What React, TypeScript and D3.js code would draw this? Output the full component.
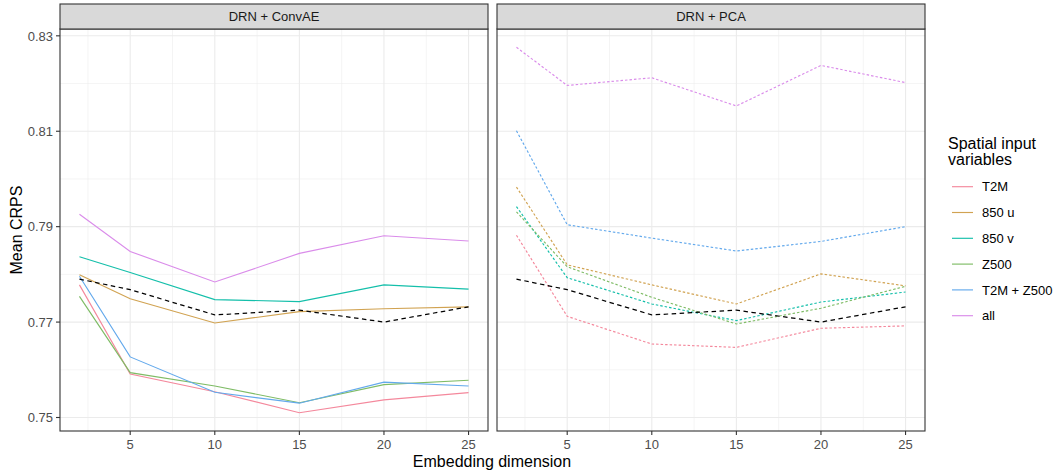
import React from "react";
import * as d3 from "d3";

const dims = [2, 5, 10, 15, 20, 25];
const seriesNames = ["T2M", "850 u", "850 v", "Z500", "T2M + Z500", "all"];
const colors = ["#F4889C", "#D1A352", "#14BFAA", "#7FBC66", "#63A9EC", "#DA8CEA"];

const convAE: number[][] = [
  [0.7778, 0.7591, 0.7554, 0.751, 0.7537, 0.7552],
  [0.7799, 0.7749, 0.7698, 0.7722, 0.7728, 0.7732],
  [0.7837, 0.7804, 0.7747, 0.7743, 0.7778, 0.7769],
  [0.7754, 0.7594, 0.7566, 0.7531, 0.7569, 0.7578],
  [0.7796, 0.7627, 0.7553, 0.753, 0.7574, 0.7566],
  [0.7926, 0.7848, 0.7784, 0.7844, 0.7881, 0.787],
];
const pca: number[][] = [
  [0.7882, 0.7712, 0.7654, 0.7647, 0.7687, 0.7692],
  [0.7983, 0.782, 0.7778, 0.7738, 0.7801, 0.7776],
  [0.7942, 0.7793, 0.7738, 0.7703, 0.7742, 0.7763],
  [0.7931, 0.7816, 0.7752, 0.7696, 0.7729, 0.7775],
  [0.8101, 0.7904, 0.7876, 0.7849, 0.7869, 0.79],
  [0.8276, 0.8196, 0.8212, 0.8153, 0.8238, 0.8202],
];
const reference = [0.779, 0.7768, 0.7715, 0.7725, 0.77, 0.7732];

const panels = [
  { title: "DRN + ConvAE", data: convAE, dash: null as string | null },
  { title: "DRN + PCA", data: pca, dash: "2.5,2" },
];

const yTicks = [0.75, 0.77, 0.79, 0.81, 0.83];
const yMinor = [0.76, 0.78, 0.8, 0.82];
const xTicks = [5, 10, 15, 20, 25];
const xMinor = [2.5, 7.5, 12.5, 17.5, 22.5];

export default function App() {
  const W = 1055, H = 471;
  const top = 29, bottom = 431;
  const panelX = [60, 497];
  const panelW = 428;
  const stripTop = 4;
  const font = "Liberation Sans, Arial, Helvetica, sans-serif";

  const allVals = [...convAE.flat(), ...pca.flat(), ...reference];
  const ymin = d3.min(allVals)!, ymax = d3.max(allVals)!;
  const ypad = (ymax - ymin) * 0.05;
  const y = d3.scaleLinear().domain([ymin - ypad, ymax + ypad]).range([bottom, top]);
  const xpad = (25 - 2) * 0.05;

  return (
    <svg width={W} height={H} style={{ position: "absolute", left: 0, top: 0, fontFamily: font }}>
      <rect width={W} height={H} fill="white" />
      {panels.map((p, pi) => {
        const x0 = panelX[pi];
        const x = d3.scaleLinear().domain([2 - xpad, 25 + xpad]).range([x0, x0 + panelW]);
        const line = d3.line<number>().x((_, i) => x(dims[i])).y((v) => y(v));
        return (
          <g key={pi}>
            <rect x={x0} y={top} width={panelW} height={bottom - top} fill="white" />
            {yMinor.map((t) => (
              <line key={"ym" + t} x1={x0} x2={x0 + panelW} y1={y(t)} y2={y(t)} stroke="#EBEBEB" strokeWidth={0.55} />
            ))}
            {xMinor.map((t) => (
              <line key={"xm" + t} x1={x(t)} x2={x(t)} y1={top} y2={bottom} stroke="#EBEBEB" strokeWidth={0.55} />
            ))}
            {yTicks.map((t) => (
              <line key={"y" + t} x1={x0} x2={x0 + panelW} y1={y(t)} y2={y(t)} stroke="#EBEBEB" strokeWidth={1.1} />
            ))}
            {xTicks.map((t) => (
              <line key={"x" + t} x1={x(t)} x2={x(t)} y1={top} y2={bottom} stroke="#EBEBEB" strokeWidth={1.1} />
            ))}
            {p.data.map((s, si) => (
              <path key={si} d={line(s)!} fill="none" stroke={colors[si]} strokeWidth={1.15}
                strokeDasharray={p.dash ?? undefined} />
            ))}
            <path d={line(reference)!} fill="none" stroke="black" strokeWidth={1.25} strokeDasharray="4.5,3.5" />
            <rect x={x0} y={top} width={panelW} height={bottom - top} fill="none" stroke="#333333" strokeWidth={1.1} />
            <rect x={x0} y={stripTop} width={panelW} height={top - stripTop} fill="#D9D9D9" stroke="#333333" strokeWidth={1.1} />
            <text x={x0 + panelW / 2} y={(stripTop + top) / 2 + 4.6} textAnchor="middle" fontSize={13} fill="#1A1A1A">{p.title}</text>
            {xTicks.map((t) => (
              <g key={"xt" + t}>
                <line x1={x(t)} x2={x(t)} y1={bottom} y2={bottom + 4} stroke="#333333" strokeWidth={1.1} />
                <text x={x(t)} y={bottom + 17.7} textAnchor="middle" fontSize={13} fill="#4D4D4D">{t}</text>
              </g>
            ))}
            {pi === 0 && yTicks.map((t) => (
              <g key={"yt" + t}>
                <line x1={x0 - 4} x2={x0} y1={y(t)} y2={y(t)} stroke="#333333" strokeWidth={1.1} />
                <text x={x0 - 7} y={y(t) + 4.7} textAnchor="end" fontSize={13} fill="#4D4D4D">{t.toFixed(2)}</text>
              </g>
            ))}
          </g>
        );
      })}
      <text x={492} y={467} textAnchor="middle" fontSize={16} fill="black">Embedding dimension</text>
      <text transform={`translate(22,${(top + bottom) / 2}) rotate(-90)`} textAnchor="middle" fontSize={16} fill="black">Mean CRPS</text>
      <g>
        <text x={948} y={148.5} fontSize={16} fill="black">Spatial input</text>
        <text x={948} y={164.5} fontSize={16} fill="black">variables</text>
        {seriesNames.map((n, i) => {
          const ly = 186.7 + i * 25.8;
          return (
            <g key={n}>
              <line x1={952} x2={973} y1={ly} y2={ly} stroke={colors[i]} strokeWidth={1.15} />
              <text x={982} y={ly + 4.7} fontSize={13} fill="black">{n}</text>
            </g>
          );
        })}
      </g>
    </svg>
  );
}
